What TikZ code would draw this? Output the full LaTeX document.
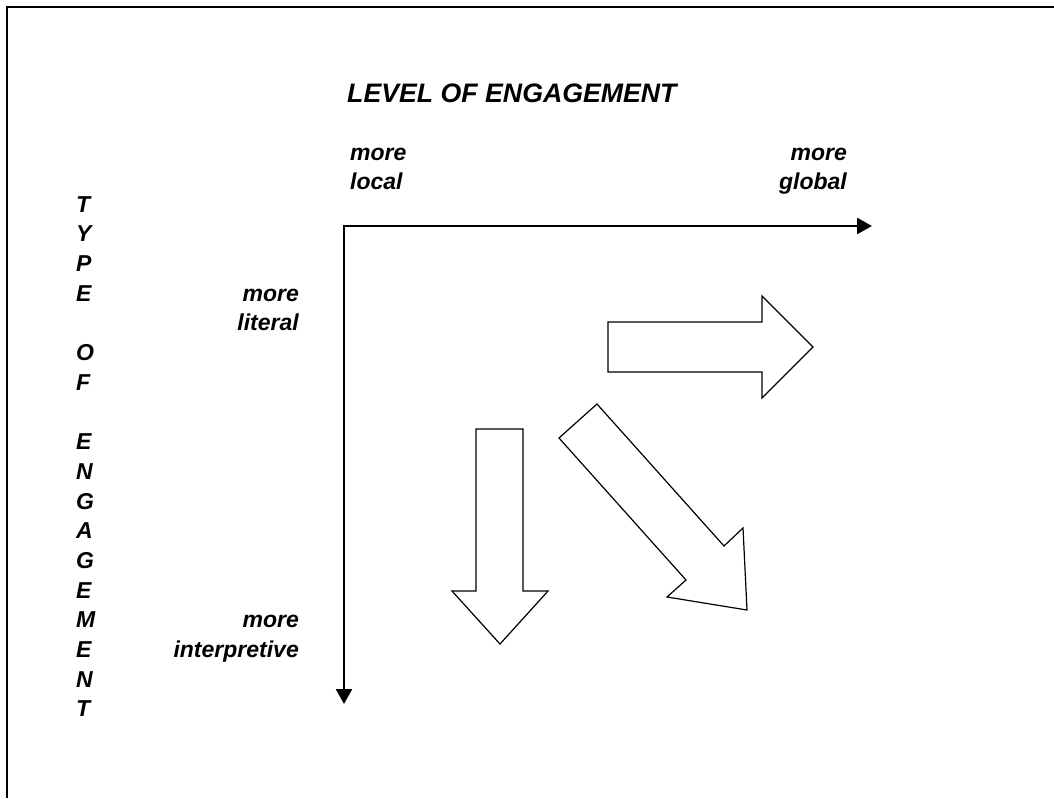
\documentclass[tikz,border=0pt]{standalone}
\usepackage{fontspec}
\setmainfont{Liberation Sans}
\usetikzlibrary{arrows.meta,positioning}

\tikzset{
  lbl/.style={font=\fontsize{23}{28}\selectfont\bfseries\itshape, inner sep=0pt},
  heading/.style={lbl, font=\fontsize{26.7}{32}\selectfont\bfseries\itshape},
  axis/.style={line width=2.5pt, line join=miter,
    {Triangle[length=15pt,width=16pt]}-{Triangle[length=15pt,width=16pt]}},
  blockarrow/.style={draw, line width=1.2pt, line join=miter, fill=white}
}

\begin{document}
\begin{tikzpicture}[x=1pt,y=-1pt]
  \useasboundingbox (0,0) rectangle (1054,798);
  % frame, only its top and left edge fall on the page
  \draw[line width=1.6pt] (7,798) -- (7,7) -- (1054,7);

  \node[heading, anchor=base west] (title) at (347,102) {LEVEL OF ENGAGEMENT};
  \node[lbl, anchor=base west] (local1) at (350,160) {more};
  \node[lbl, anchor=base west] (local2) at ([yshift=-29pt]local1.base west) {local};
  \node[lbl, anchor=base east] (global1) at (847,160) {more};
  \node[lbl, anchor=base east] (global2) at ([yshift=-29pt]global1.base east) {global};

  % vertical axis title, one letter per line
  \foreach \l [count=\i from 0] in {T,Y,P,E,{},O,F,{},E,N,G,A,G,E,M,E,N,T}
    \node[lbl, anchor=base west] (type\i) at (76,212+29.7*\i) {\l};

  \node[lbl, anchor=base east] (literal1) at (299,301.1) {more};
  \node[lbl, anchor=base east] (literal2) at ([yshift=-29.7pt]literal1.base east) {literal};
  \node[lbl, anchor=base east] (interp1) at (299,627.8) {more};
  \node[lbl, anchor=base east] (interp2) at ([yshift=-29.7pt]interp1.base east) {interpretive};

  % axes
  \coordinate (origin) at (344,226);
  \coordinate (xend) at (872,226);
  \coordinate (yend) at (344,704);
  \draw[axis] (xend) -- (origin) -- (yend);

  % block arrows
  \draw[blockarrow] (608,322) -- (762,322) -- (762,296) -- (813,347) -- (762,398)
    -- (762,372) -- (608,372) -- cycle;
  \draw[blockarrow] (476,429) -- (523,429) -- (523,591) -- (548,591) -- (500,644)
    -- (452,591) -- (476,591) -- cycle;
  \draw[blockarrow] (597,404) -- (724,546) -- (743,528) -- (747,610) -- (667,597)
    -- (686,580) -- (559,438) -- cycle;
\end{tikzpicture}
\end{document}
